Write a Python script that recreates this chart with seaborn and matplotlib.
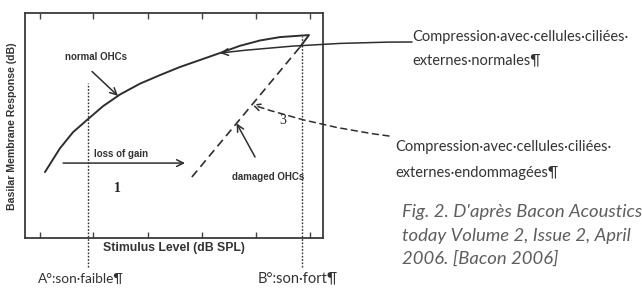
#!/usr/bin/env python3
# -*- coding: utf-8 -*-
"""Courbe entrée/sortie de la membrane basilaire (d'après Bacon 2006)."""

import numpy as np
import matplotlib.pyplot as plt
import seaborn as sns

# =====================================================================
# DONNÉES (unités arbitraires 0-100)
# =====================================================================
# courbe "normal OHCs"
normal_level = [6.7, 11.7, 16.1, 21.1, 26.2, 31.9, 38.6, 45.3, 52.0, 58.7,
                65.4, 72.1, 78.9, 85.6, 95.3, 92.3]
normal_resp = [29.3, 39.8, 47.0, 52.8, 58.6, 63.8, 68.6, 72.4, 76.0, 79.1,
               82.2, 85.4, 87.8, 89.3, 90.2, 84.9]
# courbe "damaged OHCs" (droite en tirets)
damaged_level = [56.0, 92.3]
damaged_resp = [27.1, 84.9]
# graduations (sans étiquettes) de l'axe du niveau de stimulus
tick_levels = [5.0, 22.8, 41.3, 59.4, 77.5, 95.6]
# niveaux A (son faible) et B (son fort)
weak_level = 21.1
loud_level = 93.0
# flèche "loss of gain"
gain_start, gain_end, gain_resp = 12.8, 53.7, 33.3

# =====================================================================
# STYLE
# =====================================================================
sns.set_theme(style="white")
plt.rcParams["font.family"] = ["Liberation Sans", "DejaVu Sans"]

W, H = 642, 292
INK = "#2e2e2e"


def fpx(x, y):
    """Position en pixels de la figure -> fraction de figure."""
    return x / W, 1 - y / H


fig = plt.figure(figsize=(W / 100, H / 100), dpi=100)
ax = fig.add_axes([25 / W, 1 - 238 / H, 298 / W, 225 / H])
ax.set_xlim(0, 100)
ax.set_ylim(0, 100)

for sp in ax.spines.values():
    sp.set_color("#3a3a3a")
    sp.set_linewidth(1.3)

ax.set_xticks(tick_levels)
ax.set_yticks([])
ax.tick_params(axis="x", direction="in", top=True, bottom=True, length=4,
               width=1, color="#444444", labelbottom=False)

# courbes
sns.lineplot(x=normal_level, y=normal_resp, sort=False, estimator=None,
             color=INK, lw=1.4, ax=ax)
sns.lineplot(x=damaged_level, y=damaged_resp, sort=False, estimator=None,
             color=INK, lw=1.2, ax=ax)
ax.lines[-1].set_dashes((5, 3))

# repères verticaux A / B (débordent sous l'axe)
ax.axvline(weak_level, ymin=-0.13, ymax=0.69, color=INK, lw=1,
           ls=(0, (1.2, 1.2)), clip_on=False)
ax.axvline(loud_level, ymin=-0.13, ymax=0.90, color=INK, lw=1,
           ls=(0, (1.2, 1.2)), clip_on=False)

arrow = dict(arrowstyle="->", color=INK, lw=1.1, shrinkA=0, shrinkB=0)
lab = dict(fontsize=7, fontweight="bold", color="#333333", ha="center",
           va="center")

# perte de gain
ax.annotate("", xy=(gain_end, gain_resp), xytext=(gain_start, gain_resp),
            arrowprops=arrow)
ax.text(32.2, 37.5, "loss of gain", **lab)

# étiquettes des courbes
ax.text(23.8, 80.4, "normal OHCs", **lab)
ax.annotate("", xy=(31.2, np.interp(31.2, normal_level[:14], normal_resp[:14])),
            xytext=(22.5, 74.0), arrowprops=arrow)

ax.text(81.5, 27.1, "damaged OHCs", **lab)
ax.annotate("", xy=(71, np.interp(71, damaged_level, damaged_resp)),
            xytext=(77.2, 36), arrowprops=arrow)

ax.text(30.9, 22.2, "1", fontsize=10, family="Liberation Serif",
        fontweight="bold", color="#222222", ha="center", va="center")
ax.text(86.6, 52.4, "3", fontsize=10, family="Liberation Serif",
        color="#222222", ha="center", va="center")

# titres des axes
fig.text(*fpx(174, 248), "Stimulus Level (dB SPL)", fontsize=8.8,
         fontweight="bold", color="#333333", ha="center", va="center")
fig.text(*fpx(12, 126), "Basilar Membrane Response (dB)", fontsize=7.6,
         fontweight="bold", color="#333333", ha="center", va="center",
         rotation=90)

# flèches depuis les commentaires (à droite)
ax.annotate("", xy=(normal_level[10], normal_resp[10]), xytext=fpx(412, 42),
            textcoords="figure fraction", annotation_clip=False,
            arrowprops=dict(arrow, connectionstyle="arc3,rad=0.03"))
ax.annotate("", xy=(76.2, np.interp(76.2, damaged_level, damaged_resp)),
            xytext=fpx(389, 136), textcoords="figure fraction",
            annotation_clip=False,
            arrowprops=dict(arrow, linestyle=(0, (4, 3)),
                            connectionstyle="arc3,rad=-0.05"))

note = dict(fontsize=10.5, family=["Lato", "DejaVu Sans"], color="#333333",
            va="center", ha="left")
fig.text(*fpx(412, 37), "Compression·avec·cellules·ciliées·", **note)
fig.text(*fpx(412, 60), "externes·normales¶", **note)
fig.text(*fpx(395, 147), "Compression·avec·cellules·ciliées·", **note)
fig.text(*fpx(395, 173), "externes·endommagées¶", **note)

fig.text(*fpx(38, 278), "A°:son·faible¶", **dict(note, fontsize=9.8))
fig.text(*fpx(258, 278), "B°:son·fort¶", **dict(note, fontsize=10.5))

# légende de la figure
cap = dict(fontsize=13.3, family=["Lato", "DejaVu Sans"], style="italic",
           color="#5e5e5e", va="center", ha="left")
fig.text(*fpx(402, 212), "Fig. 2. D'après Bacon Acoustics", **cap)
fig.text(*fpx(402, 236), "today Volume 2, Issue 2, April", **cap)
fig.text(*fpx(402, 259), "2006. [Bacon 2006]", **cap)

fig.savefig("out.png", dpi=100)
plt.close(fig)
